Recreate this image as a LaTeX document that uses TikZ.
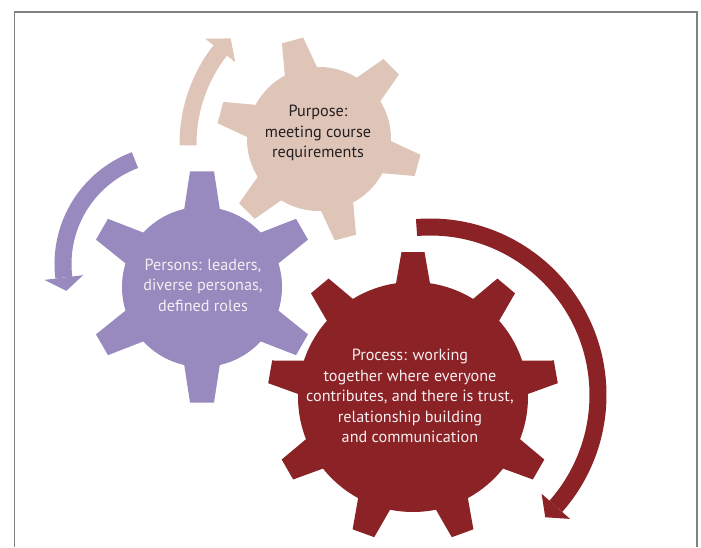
\documentclass[tikz,border=0pt]{standalone}
\usepackage{fontspec}
\setmainfont{PT Sans}
\definecolor{gbeige}{RGB}{223,196,184}
\definecolor{gpurple}{RGB}{152,137,191}
\definecolor{gred}{RGB}{139,34,38}
\definecolor{framegray}{RGB}{128,128,128}
\definecolor{darktext}{RGB}{35,31,32}
\definecolor{lighttext}{RGB}{246,238,240}
% gear: cx, cy, body radius, tip radius, teeth, start angle, base half-width, tip half-width, colour
\newcommand\mygear[9]{%
  \begin{scope}[shift={(#1,#2)}]
    \draw[white, line width=2.5] (0,0) circle[radius=#3];
    \foreach \k in {1,...,#5} {
      \pgfmathsetmacro\gang{#6+(\k-1)*360/#5}
      \draw[white, line width=2.5, line join=miter, rotate=\gang] (#3-10,-#7) -- (#4,-#8) -- (#4,#8) -- (#3-10,#7);
    }
    \fill[#9] (0,0) circle[radius=#3];
    \foreach \k in {1,...,#5} {
      \pgfmathsetmacro\gang{#6+(\k-1)*360/#5}
      \fill[#9, rotate=\gang] (#3-10,-#7) -- (#4,-#8) -- (#4,#8) -- (#3-10,#7) -- cycle;
    }
  \end{scope}}
% curved arrow: cx, cy, radius, start angle, head base angle, tip angle, head half-width, shaft width, colour
\newcommand\myarrow[9]{%
  \begin{scope}[shift={(#1,#2)}]
    \draw[#9, line width=#8] (#4:#3) arc[start angle=#4, end angle=#5, radius=#3];
    \fill[#9] ({#5}:{#3-#7}) -- ({#6}:{#3}) -- ({#5}:{#3+#7}) -- cycle;
  \end{scope}}
\tikzset{
  gearlabel/.style={align=center, font=\fontsize{16.2}{20.5}\selectfont, inner sep=0pt}
}
\begin{document}
\begin{tikzpicture}[x=1pt,y=1pt]
\useasboundingbox (0,0) rectangle (701,547);
% frame
\draw[framegray, line width=1.2] (14.5,0) -- (14.5,535) -- (697,535) -- (697,0);
% gears
\mygear{319}{408}{72}{102}{6}{105}{18}{11}{gbeige}
\mygear{202}{260}{80}{115.5}{6}{30}{19}{12}{gpurple}
\mygear{413}{150}{115}{145}{9}{90}{18.5}{11.5}{gred}
% arrows
\myarrow{340}{403}{152}{180.5}{142}{136}{19}{17}{gbeige}
\myarrow{174}{283}{111}{110.6}{187}{194}{19.5}{17}{gpurple}
\myarrow{430}{152}{168}{94.6}{-41.5}{-46.7}{19}{17}{gred}
% labels
\node[gearlabel, text=darktext] (purpose) at (318,414) {Purpose:\\meeting course\\requirements};
\node[gearlabel, text=lighttext] (persons) at (203,262) {Persons: leaders,\\diverse personas,\\defined roles};
\node[gearlabel, text=lighttext] (process) at (410,151) {Process: working\\together where everyone\\contributes, and there is trust,\\relationship building\\and communication};
\end{tikzpicture}
\end{document}
